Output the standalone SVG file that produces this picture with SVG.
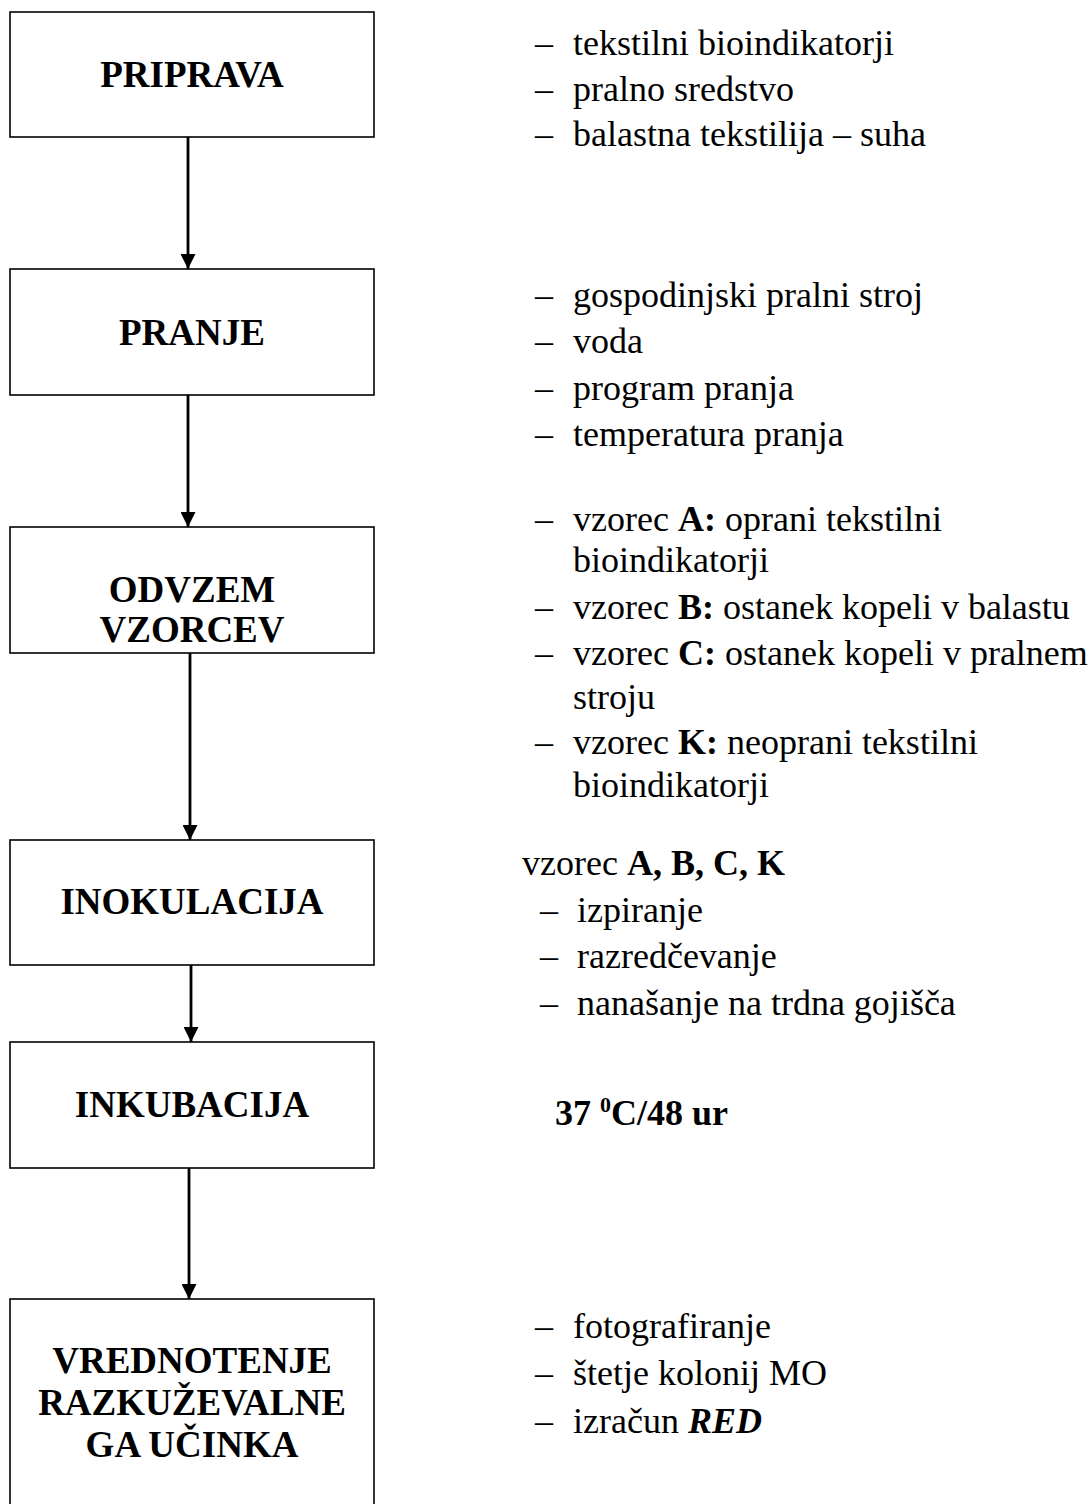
<svg xmlns="http://www.w3.org/2000/svg" width="1091" height="1504" viewBox="0 0 1091 1504">
<defs>
<style>
.box{fill:#fff;stroke:#000;stroke-width:1.6}
.title{font-family:"Liberation Serif","Times New Roman",serif;font-weight:bold;font-size:37px;fill:#000;text-anchor:middle}
.item{font-family:"Liberation Serif","Times New Roman",serif;font-size:36px;fill:#000}
.b{font-weight:bold}
.conn{stroke:#000;stroke-width:2.8;fill:none}
</style>
<marker id="arr" markerUnits="userSpaceOnUse" markerWidth="16" markerHeight="15" refX="15" refY="7.5" orient="auto">
<path d="M0,0 L15,7.5 L0,15 Z" fill="#000"/>
</marker>
</defs>
<rect width="1091" height="1504" fill="#fff"/>

<g id="connectors">
<line class="conn" x1="188" y1="137" x2="188" y2="269" marker-end="url(#arr)"/>
<line class="conn" x1="188" y1="395" x2="188" y2="527" marker-end="url(#arr)"/>
<line class="conn" x1="190" y1="653" x2="190" y2="840" marker-end="url(#arr)"/>
<line class="conn" x1="191" y1="965" x2="191" y2="1042" marker-end="url(#arr)"/>
<line class="conn" x1="189" y1="1168" x2="189" y2="1299" marker-end="url(#arr)"/>
</g>

<g id="node-priprava">
<rect class="box" x="10" y="12" width="364" height="125"/>
<text class="title" x="192" y="87">PRIPRAVA</text>
</g>
<g id="node-pranje">
<rect class="box" x="10" y="269" width="364" height="126"/>
<text class="title" x="192" y="345">PRANJE</text>
</g>
<g id="node-odvzem">
<rect class="box" x="10" y="527" width="364" height="126"/>
<text class="title" x="192" y="602">ODVZEM</text>
<text class="title" x="192" y="642">VZORCEV</text>
</g>
<g id="node-inokulacija">
<rect class="box" x="10" y="840" width="364" height="125"/>
<text class="title" x="192" y="914">INOKULACIJA</text>
</g>
<g id="node-inkubacija">
<rect class="box" x="10" y="1042" width="364" height="126"/>
<text class="title" x="192" y="1117">INKUBACIJA</text>
</g>
<g id="node-vrednotenje">
<rect class="box" x="10" y="1299" width="364" height="215"/>
<text class="title" x="192" y="1373">VREDNOTENJE</text>
<text class="title" x="192" y="1415">RAZKUŽEVALNE</text>
<text class="title" x="192" y="1457">GA UČINKA</text>
</g>

<g id="notes-priprava" class="item">
<text x="535" y="55">–</text><text x="573" y="55">tekstilni bioindikatorji</text>
<text x="535" y="101">–</text><text x="573" y="101">pralno sredstvo</text>
<text x="535" y="146">–</text><text x="573" y="146">balastna tekstilija – suha</text>
</g>

<g id="notes-pranje" class="item">
<text x="535" y="307">–</text><text x="573" y="307">gospodinjski pralni stroj</text>
<text x="535" y="353">–</text><text x="573" y="353">voda</text>
<text x="535" y="400">–</text><text x="573" y="400">program pranja</text>
<text x="535" y="446">–</text><text x="573" y="446">temperatura pranja</text>
</g>

<g id="notes-odvzem" class="item">
<text x="535" y="531">–</text><text x="573" y="531">vzorec <tspan class="b">A:</tspan> oprani tekstilni</text>
<text x="573" y="572">bioindikatorji</text>
<text x="535" y="619">–</text><text x="573" y="619">vzorec <tspan class="b">B:</tspan> ostanek kopeli v balastu</text>
<text x="535" y="665">–</text><text x="573" y="665">vzorec <tspan class="b">C:</tspan> ostanek kopeli v pralnem</text>
<text x="573" y="709">stroju</text>
<text x="535" y="754">–</text><text x="573" y="754">vzorec <tspan class="b">K:</tspan> neoprani tekstilni</text>
<text x="573" y="797">bioindikatorji</text>
</g>

<g id="notes-inokulacija" class="item">
<text x="522" y="875">vzorec <tspan class="b">A, B, C, K</tspan></text>
<text x="540" y="922">–</text><text x="577" y="922">izpiranje</text>
<text x="540" y="968">–</text><text x="577" y="968">razredčevanje</text>
<text x="540" y="1015">–</text><text x="577" y="1015">nanašanje na trdna gojišča</text>
</g>

<g id="notes-inkubacija" class="item">
<text x="555" y="1125" class="b">37 <tspan font-size="22" dy="-13">0</tspan><tspan dy="13">C/48 ur</tspan></text>
</g>

<g id="notes-vrednotenje" class="item">
<text x="535" y="1338">–</text><text x="573" y="1338">fotografiranje</text>
<text x="535" y="1385">–</text><text x="573" y="1385">štetje kolonij MO</text>
<text x="535" y="1433">–</text><text x="573" y="1433">izračun <tspan font-weight="bold" font-style="italic">RED</tspan></text>
</g>
</svg>
